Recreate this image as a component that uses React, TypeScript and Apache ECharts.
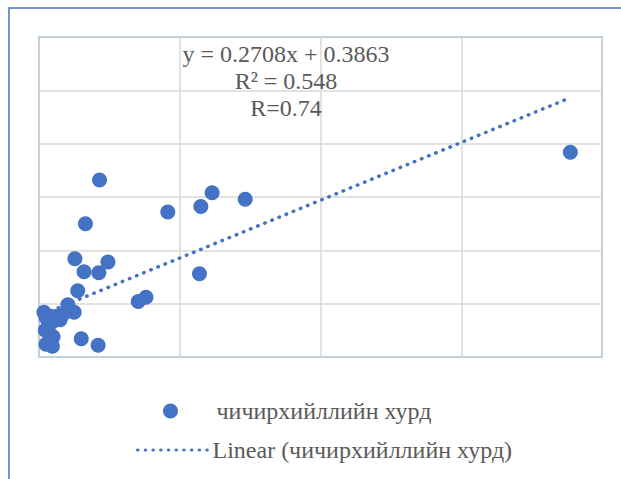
import React, { useEffect, useRef } from "react";
import * as echarts from "echarts";

// Measured points: x and y values of each observation
const xValues = [
  0.86, 0.66, 0.51, 0.98, 0.64, 0.85, 1.83, 2.3, 2.46, 2.93, 2.28, 1.41, 1.52,
  7.55, 0.55, 0.41, 0.5, 0.07, 0.1, 0.13, 0.19, 0.24, 0.3, 0.34, 0.09, 0.16,
  0.2, 0.1, 0.19, 0.6, 0.84,
];
const yValues = [
  1.66, 1.25, 0.92, 0.89, 0.8, 0.79, 1.36, 1.41, 1.54, 1.48, 0.78, 0.52, 0.56,
  1.92, 0.62, 0.49, 0.42, 0.42, 0.37, 0.29, 0.33, 0.38, 0.35, 0.4, 0.25, 0.21,
  0.19, 0.12, 0.1, 0.17, 0.11,
];

// Linear trend coefficients
const slope = 0.2708;
const intercept = 0.3863;
const rSquared = "0.548";
const rValue = "0.74";

const seriesName = "чичирхийллийн хурд";
const trendName = "Linear (чичирхийллийн хурд)";

const FONT = "'Liberation Serif', 'Times New Roman', serif";
const TEXT_COLOR = "#595959";
const BLUE = "#4472C4";

export default function App() {
  const ref = useRef<HTMLDivElement>(null);

  useEffect(() => {
    if (!ref.current) return;
    const chart = echarts.init(ref.current, null, { renderer: "svg" });

    const points = xValues.map((x, i) => [x, yValues[i]]);
    const xMin = Math.min(...xValues);
    const xMax = Math.max(...xValues);
    const trend = [
      [xMin, slope * xMin + intercept],
      [xMax, slope * xMax + intercept],
    ];

    chart.setOption({
      animation: false,
      backgroundColor: "#ffffff",
      grid: {
        left: 39,
        top: 37,
        right: 19,
        bottom: 122,
        show: true,
        borderColor: "#5B9BD5",
        borderWidth: 1.5,
        containLabel: false,
      },
      xAxis: {
        type: "value",
        min: 0,
        max: 8,
        interval: 2,
        axisLine: { show: false },
        axisTick: { show: false },
        axisLabel: { show: false },
        splitLine: { show: true, lineStyle: { color: "#D9D9D9", width: 1.5 } },
      },
      yAxis: {
        type: "value",
        min: 0,
        max: 3,
        interval: 0.5,
        axisLine: { show: false },
        axisTick: { show: false },
        axisLabel: { show: false },
        splitLine: { show: true, lineStyle: { color: "#D9D9D9", width: 1.5 } },
      },
      legend: [
        {
          data: [seriesName],
          left: 158,
          top: 394,
          itemWidth: 82,
          itemHeight: 15,
          textStyle: { color: TEXT_COLOR, fontFamily: FONT, fontSize: 24 },
        },
        {
          data: [trendName],
          left: 131,
          top: 433,
          itemWidth: 70,
          itemHeight: 15,
          itemStyle: { opacity: 0 },
          lineStyle: { width: 3, type: [0.5, 7.2], cap: "round" },
          textStyle: { color: TEXT_COLOR, fontFamily: FONT, fontSize: 24 },
        },
      ],
      graphic: [
        {
          type: "polyline",
          shape: {
            points: [
              [9, 500],
              [9, 8],
              [640, 8],
            ],
          },
          style: { stroke: BLUE, lineWidth: 1.5, fill: "none" },
          silent: true,
        },
        {
          type: "text",
          x: 286,
          y: 40,
          style: {
            text: `y = ${slope}x + ${intercept}\nR² = ${rSquared}\nR=${rValue}`,
            fill: TEXT_COLOR,
            font: `24px ${FONT}`,
            textAlign: "center",
            lineHeight: 27,
          },
          z: 10,
          silent: true,
        },
      ],
      series: [
        {
          name: trendName,
          type: "line",
          data: trend,
          symbol: "none",
          z: 2,
          color: BLUE,
          lineStyle: {
            color: BLUE,
            width: 3.5,
            type: [0.5, 7.2],
            cap: "round",
          },
        },
        {
          name: seriesName,
          type: "scatter",
          data: points,
          symbol: "circle",
          symbolSize: 15,
          z: 3,
          itemStyle: { color: BLUE, opacity: 1 },
        },
      ],
    });

    return () => chart.dispose();
  }, []);

  return (
    <div
      ref={ref}
      style={{ position: "fixed", left: 0, top: 0, width: 621, height: 479 }}
    />
  );
}
